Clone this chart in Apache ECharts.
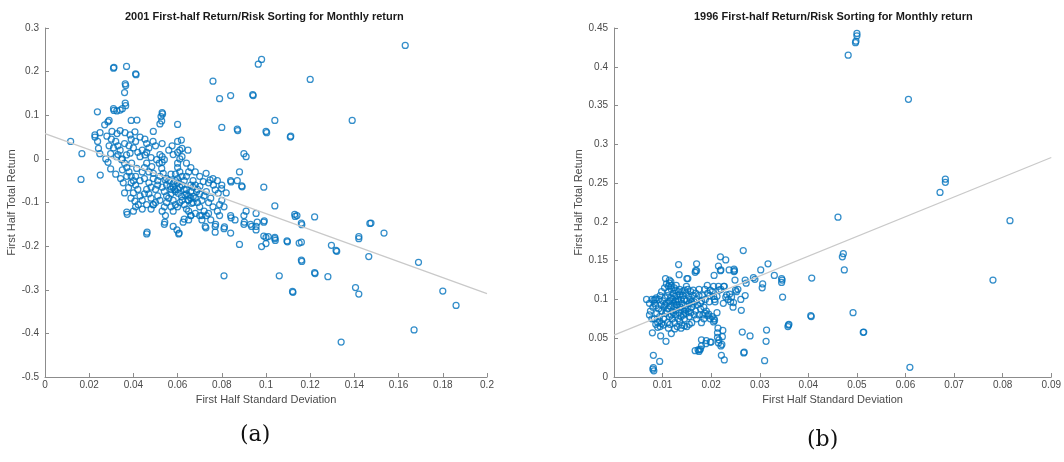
<!DOCTYPE html>
<html>
<head>
<meta charset="utf-8">
<script src="https://cdn.jsdelivr.net/npm/echarts@6/dist/echarts.min.js"></script>
<style>
  html, body { margin: 0; padding: 0; background: #fff; }
  #chart { width: 1064px; height: 462px; }
</style>
</head>
<body>
<div id="chart"></div>
<script>
// 2001: [first half std dev, first half total return]
var points2001 = [
  [0.163,0.26],[0.098,0.228],[0.0965,0.217],[0.12,0.182],[0.076,0.178],[0.079,0.138],[0.084,0.145],[0.094,0.147],[0.0942,0.145],
  [0.08,0.072],[0.087,0.068],[0.0872,0.065],[0.104,0.088],[0.1,0.063],[0.1003,0.06],[0.111,0.05],[0.1112,0.052],[0.139,0.088],
  [0.09,0.012],[0.091,0.005],[0.088,-0.03],[0.084,-0.05],[0.0842,-0.053],[0.089,-0.062],[0.0892,-0.064],[0.099,-0.065],
  [0.082,-0.078],[0.104,-0.108],[0.113,-0.127],[0.1132,-0.132],[0.122,-0.133],
  [0.031,0.208],[0.0312,0.21],[0.0369,0.212],[0.041,0.195],[0.0412,0.193],[0.0363,0.172],[0.0365,0.168],[0.036,0.152],
  [0.0363,0.128],[0.0365,0.122],[0.031,0.115],[0.0312,0.111],[0.0325,0.11],[0.034,0.112],[0.035,0.115],[0.0237,0.108],
  [0.053,0.106],[0.0532,0.103],[0.0525,0.097],[0.0528,0.087],[0.052,0.08],[0.06,0.079],[0.039,0.088],[0.0416,0.089],
  [0.029,0.088],[0.0285,0.085],[0.027,0.078],[0.0116,0.04],[0.0167,0.012],[0.0163,-0.047],[0.025,-0.037],[0.049,0.063],
  [0.0617,0.043],[0.06,0.04],
  [0.0226,0.055],[0.0249,0.06],[0.028,0.052],[0.0303,0.063],[0.0326,0.058],[0.034,0.065],[0.0362,0.06],[0.0385,0.055],
  [0.0407,0.062],[0.043,0.05],[0.0452,0.045],[0.0489,0.04],[0.053,0.035],[0.0575,0.03],[0.062,0.024],[0.0647,0.02],
  [0.0226,0.05],[0.0238,0.04],[0.0242,0.024],[0.0248,0.012],[0.0275,0.0],[0.0297,0.012],[0.0285,-0.008],[0.0297,-0.023],
  [0.032,-0.035],[0.0342,-0.045],[0.0354,-0.055],[0.036,-0.078],[0.0378,-0.066],[0.0389,-0.09],[0.04,-0.078],[0.0407,-0.097],
  [0.0422,-0.105],
  [0.0324,0.005],[0.0347,-0.002],[0.0369,0.009],[0.0385,0.013],[0.0392,-0.01],[0.0415,-0.022],[0.043,0.005],[0.0452,0.009],
  [0.046,-0.01],[0.0483,-0.018],[0.049,-0.033],[0.0505,-0.002],[0.0517,-0.01],[0.0528,-0.022],[0.0535,-0.033],[0.0543,-0.048],
  [0.055,-0.06],[0.0566,-0.063],[0.0581,-0.056],[0.0588,-0.071],[0.0603,-0.079],[0.0618,-0.086],[0.0633,-0.083],[0.064,-0.071],
  [0.0648,-0.094],[0.0663,-0.102],[0.0671,-0.086],[0.0686,-0.075],[0.0701,-0.063],[0.0716,-0.052],[0.0729,-0.033],[0.0747,-0.048],
  [0.0762,-0.06],[0.077,-0.071],[0.0784,-0.079],[0.0799,-0.068],
  [0.044,-0.03],[0.045,-0.045],[0.047,-0.055],[0.048,-0.065],[0.05,-0.07],[0.051,-0.05],[0.052,-0.04],[0.054,-0.075],
  [0.055,-0.085],[0.056,-0.09],[0.057,-0.08],[0.058,-0.095],[0.059,-0.105],[0.06,-0.11],[0.061,-0.1],[0.062,-0.095],
  [0.063,-0.105],[0.064,-0.115],[0.065,-0.085],[0.066,-0.075],[0.067,-0.065],[0.068,-0.09],[0.069,-0.1],[0.07,-0.11],
  [0.071,-0.095],[0.072,-0.085],[0.073,-0.075],[0.074,-0.1],[0.075,-0.09],[0.076,-0.11],[0.078,-0.12],[0.079,-0.105],
  [0.08,-0.095],[0.081,-0.11],[0.062,-0.06],[0.063,-0.07],[0.064,-0.08],[0.065,-0.095],[0.066,-0.09],[0.067,-0.1],
  [0.06,-0.07],[0.061,-0.065],[0.059,-0.075],[0.058,-0.065],[0.057,-0.07],[0.056,-0.05],[0.06,-0.045],[0.062,-0.04],
  [0.061,-0.03],[0.06,-0.02],[0.06,-0.01],[0.061,0.0],[0.062,0.005],[0.06,0.015],[0.061,0.02],[0.059,-0.035],
  [0.063,-0.05],[0.066,-0.06],[0.067,-0.05],[0.068,-0.06],[0.069,-0.07],[0.07,-0.08],[0.065,-0.12],[0.066,-0.13],
  [0.068,-0.125],[0.07,-0.13],[0.072,-0.12],[0.074,-0.125],[0.058,-0.12],[0.057,-0.11],[0.055,-0.1],[0.054,-0.11],
  [0.053,-0.12],[0.052,-0.095],[0.051,-0.085],[0.05,-0.1],[0.049,-0.105],[0.048,-0.09],[0.047,-0.08],[0.046,-0.07],
  [0.045,-0.08],[0.044,-0.095],[0.043,-0.085],[0.042,-0.07],[0.041,-0.06],[0.04,-0.05],[0.039,-0.04],[0.038,-0.03],
  [0.037,-0.02],[0.036,-0.01],[0.035,0.0],[0.034,0.02],[0.033,0.03],[0.032,0.04],[0.03,0.045],[0.029,0.03],
  [0.031,0.025],[0.033,0.01],[0.035,-0.025],[0.037,-0.04],[0.039,-0.055],[0.041,-0.04],[0.043,-0.05],[0.045,-0.02],
  [0.047,-0.03],[0.049,-0.045],[0.051,-0.06],[0.053,-0.065],[0.055,-0.045],[0.057,-0.035],[0.059,-0.05],[0.06,-0.055],
  [0.053,-0.008],[0.054,-0.002],[0.053,0.005],[0.052,0.01],[0.048,0.003],[0.046,0.015],[0.044,0.02],[0.042,0.015],
  [0.04,0.025],[0.038,0.03],[0.036,0.035],[0.039,0.045],[0.041,0.04],[0.046,0.035],[0.05,0.03],[0.047,0.025],
  [0.056,0.02],[0.058,0.01],[0.064,-0.01],[0.066,-0.02],[0.068,-0.03],[0.07,-0.04],[0.074,-0.055],[0.076,-0.045],
  [0.078,-0.05],[0.08,-0.06],[0.064,-0.04],[0.065,-0.03],
  [0.037,-0.122],[0.0372,-0.127],[0.04,-0.12],[0.041,-0.11],[0.044,-0.115],[0.048,-0.115],[0.049,-0.105],[0.046,-0.105],
  [0.046,-0.172],[0.0462,-0.168],[0.054,-0.15],[0.0542,-0.145],[0.0545,-0.13],[0.058,-0.155],[0.0597,-0.163],[0.0605,-0.172],
  [0.0607,-0.17],[0.0625,-0.145],[0.063,-0.138],[0.066,-0.13],[0.065,-0.14],[0.0725,-0.155],[0.0728,-0.158],[0.073,-0.13],
  [0.071,-0.13],[0.077,-0.155],[0.0772,-0.15],[0.077,-0.168],[0.081,-0.16],[0.0812,-0.156],[0.084,-0.13],[0.0842,-0.135],
  [0.084,-0.17],[0.086,-0.14],[0.088,-0.196],[0.09,-0.15],[0.0902,-0.145],[0.09,-0.13],[0.091,-0.12],[0.093,-0.15],
  [0.0935,-0.155],[0.0955,-0.163],[0.0955,-0.155],[0.0955,-0.125],[0.096,-0.145],[0.099,-0.145],[0.0992,-0.142],[0.098,-0.201],
  [0.1,-0.194],[0.099,-0.177],[0.1,-0.18],[0.101,-0.178],[0.104,-0.18],[0.104,-0.183],[0.1042,-0.187],[0.1095,-0.188],
  [0.1097,-0.19],[0.081,-0.268],[0.106,-0.268],[0.112,-0.304],[0.1122,-0.306],[0.115,-0.193],[0.116,-0.191],[0.116,-0.232],
  [0.1162,-0.235],[0.116,-0.147],[0.1162,-0.151],[0.122,-0.261],[0.1222,-0.263],[0.128,-0.27],[0.1296,-0.198],[0.1317,-0.21],
  [0.132,-0.212],[0.134,-0.42],[0.1405,-0.295],[0.142,-0.31],[0.142,-0.178],[0.142,-0.183],[0.1465,-0.224],[0.147,-0.148],
  [0.1475,-0.147],[0.1534,-0.17],[0.167,-0.392],[0.169,-0.237],[0.18,-0.303],[0.186,-0.336],[0.114,-0.13],
  [0.087,-0.05],[0.071,-0.14],[0.075,-0.14],[0.079,-0.13]
];

// 1996: [first half std dev, first half total return]
var points1996 = [
  [0.05,0.443],[0.05,0.44],[0.0498,0.433],[0.0497,0.431],[0.0482,0.415],[0.0606,0.358],[0.0682,0.255],[0.0682,0.251],
  [0.0671,0.238],[0.0461,0.206],[0.0815,0.2015],[0.078,0.125],[0.0472,0.159],[0.047,0.155],[0.0474,0.138],[0.0492,0.083],
  [0.0513,0.0576],[0.0514,0.058],[0.0609,0.0125],[0.0407,0.1276],[0.0405,0.079],[0.0406,0.078],[0.0359,0.067],[0.0358,0.065],
  [0.036,0.068],[0.0347,0.103],[0.0345,0.127],[0.0345,0.122],[0.0346,0.125],[0.033,0.131],[0.0317,0.146],[0.0302,0.138],
  [0.0306,0.12],[0.0305,0.115],[0.029,0.126],[0.0287,0.128],[0.027,0.125],[0.0272,0.121],[0.0266,0.163],[0.0268,0.032],
  [0.0267,0.031],[0.0264,0.058],[0.028,0.053],[0.0314,0.0605],[0.0313,0.046],[0.031,0.021],[0.0261,0.1],[0.0262,0.086],
  [0.027,0.105],[0.025,0.112],[0.0249,0.125],[0.0247,0.136],[0.0247,0.139],[0.0248,0.137],[0.0237,0.138],[0.023,0.151],
  [0.0219,0.155],[0.022,0.138],[0.0219,0.137],[0.0215,0.143],[0.0206,0.131],[0.0226,0.117],[0.0227,0.117],[0.022,0.113],
  [0.023,0.103],[0.0235,0.1],[0.024,0.097],[0.0245,0.09],[0.0246,0.096],[0.0227,0.022],[0.0221,0.028],[0.022,0.04],
  [0.0222,0.042],[0.0215,0.044],[0.0216,0.048],[0.0223,0.052],[0.0224,0.06],[0.0213,0.057],[0.0214,0.063],[0.0213,0.051],
  [0.0212,0.083],[0.0206,0.075],[0.0205,0.071],[0.0207,0.073],[0.02,0.045],[0.0198,0.045],[0.019,0.047],[0.0189,0.043],
  [0.018,0.04],[0.0178,0.036],[0.0175,0.033],[0.0173,0.035],[0.0167,0.034],[0.0176,0.035],[0.018,0.048],[0.0195,0.081],
  [0.0193,0.079],[0.0207,0.1],[0.0205,0.104],[0.0215,0.117],[0.0216,0.112],[0.0205,0.117],[0.017,0.146],[0.0133,0.145],
  [0.0134,0.132],[0.0094,0.02],[0.0081,0.028],[0.0081,0.012],[0.008,0.01],[0.0082,0.008],[0.0067,0.1],[0.0079,0.057],
  [0.0096,0.053],[0.0107,0.046],[0.0118,0.056],[0.0106,0.127],[0.0114,0.125],[0.0114,0.121],[0.0117,0.123],[0.015,0.127],
  [0.0152,0.127],[0.0149,0.117],[0.0167,0.135],[0.0168,0.137],[0.017,0.137],
  [0.0073,0.08],[0.0075,0.085],[0.0078,0.075],[0.008,0.09],[0.0083,0.095],[0.0085,0.1],[0.0087,0.102],[0.0088,0.082],
  [0.009,0.07],[0.0092,0.088],[0.0094,0.078],[0.0095,0.065],[0.0097,0.093],[0.0098,0.085],[0.01,0.098],[0.0102,0.075],
  [0.0103,0.09],[0.0105,0.102],[0.0106,0.082],[0.0108,0.095],[0.011,0.105],[0.0111,0.088],[0.0112,0.11],[0.0113,0.097],
  [0.0114,0.078],[0.0116,0.092],[0.0117,0.102],[0.0118,0.113],[0.012,0.085],[0.0121,0.1],[0.0122,0.108],[0.0123,0.095],
  [0.0124,0.09],[0.0125,0.104],[0.0126,0.112],[0.0127,0.098],[0.0128,0.086],[0.0129,0.105],[0.013,0.093],[0.0131,0.1],
  [0.0132,0.11],[0.0133,0.097],[0.0134,0.083],[0.0135,0.106],[0.0136,0.09],[0.0138,0.1],[0.014,0.095],[0.0142,0.105],
  [0.0144,0.085],[0.0145,0.1],[0.0147,0.092],[0.0148,0.108],[0.015,0.098],[0.0152,0.088],[0.0154,0.104],[0.0155,0.095],
  [0.0157,0.1],[0.016,0.09],[0.0162,0.105],[0.0165,0.097],[0.0168,0.085],[0.017,0.1],[0.0172,0.093],[0.0175,0.105],
  [0.0178,0.088],[0.018,0.098],[0.0183,0.08],[0.0185,0.09],[0.0188,0.1],[0.019,0.085],[0.0193,0.108],[0.0196,0.097],
  [0.0198,0.112],[0.0083,0.075],[0.0086,0.068],[0.009,0.064],[0.0094,0.072],[0.0098,0.069],[0.0102,0.067],[0.011,0.07],
  [0.0115,0.068],[0.012,0.075],[0.0125,0.07],[0.013,0.065],[0.0135,0.072],[0.014,0.067],[0.0145,0.075],[0.015,0.065],
  [0.0155,0.078],[0.016,0.07],[0.0165,0.08],[0.017,0.075],[0.0175,0.08],[0.018,0.07],[0.0073,0.095],[0.0078,0.1],
  [0.0082,0.099],[0.0086,0.092],[0.0092,0.1],[0.0095,0.105],[0.0098,0.11],[0.0104,0.115],[0.0108,0.12],[0.0112,0.117],
  [0.0118,0.118],[0.0124,0.115],[0.0128,0.118],[0.0135,0.113],[0.014,0.11],[0.0145,0.112],[0.0152,0.113],[0.0158,0.11],
  [0.0163,0.112],[0.0168,0.108],[0.0175,0.113],[0.0182,0.105],[0.0187,0.113],[0.0192,0.118],[0.0197,0.105],[0.0202,0.11],
  [0.0208,0.097],[0.0212,0.104],[0.0118,0.08],[0.0122,0.083],[0.0127,0.08],[0.0132,0.075],[0.0138,0.078],[0.0143,0.08],
  [0.0148,0.082],[0.0153,0.084],[0.0158,0.083],[0.0108,0.085],[0.0105,0.093],[0.0115,0.098],[0.0128,0.093],[0.0137,0.087],
  [0.0147,0.087],[0.0163,0.094],[0.0178,0.095],[0.016,0.097],[0.0232,0.106],[0.0238,0.107],[0.0242,0.103],[0.0252,0.11],
  [0.0255,0.113],[0.0225,0.095],[0.0198,0.075],[0.0202,0.078],[0.0185,0.075],[0.0188,0.082],[0.0112,0.063],[0.0125,0.062],
  [0.0138,0.063],[0.0145,0.066],[0.0155,0.068]
];

// least-squares lines, end points
var fit2001 = [[0, 0.058], [0.2, -0.309]];
var fit1996 = [[0, 0.054], [0.09, 0.283]];

var titles = ['2001 First-half Return/Risk Sorting for Monthly return', '1996 First-half Return/Risk Sorting for Monthly return'];
var xName = 'First Half Standard Deviation';
var yName = 'First Half Total Return';

var axisGrey = '#8c8c8c';
var labelGrey = '#4a4a4a';

function xAx(idx, max, step) {
  return {
    gridIndex: idx, type: 'value', min: 0, max: max, interval: step,
    name: xName, nameLocation: 'middle', nameGap: 11,
    nameTextStyle: { color: labelGrey, fontSize: 11, fontFamily: 'Liberation Sans' },
    axisLine: { onZero: false, lineStyle: { color: axisGrey, width: 1 } },
    axisTick: { inside: true, length: 4, lineStyle: { color: axisGrey } },
    axisLabel: { color: labelGrey, fontSize: 10, margin: 3, fontFamily: 'Liberation Sans' },
    splitLine: { show: false }
  };
}
function yAx(idx, min, max, step, gap) {
  return {
    gridIndex: idx, type: 'value', min: min, max: max, interval: step,
    name: yName, nameLocation: 'middle', nameGap: gap,
    nameTextStyle: { color: labelGrey, fontSize: 11, fontFamily: 'Liberation Sans' },
    axisLine: { show: true, onZero: false, lineStyle: { color: axisGrey, width: 1 } },
    axisTick: { show: true, inside: true, length: 4, lineStyle: { color: axisGrey } },
    axisLabel: { color: labelGrey, fontSize: 10, margin: 6, fontFamily: 'Liberation Sans' },
    splitLine: { show: false }
  };
}

var marker = {
  color: 'rgba(0,0,0,0)',
  borderColor: '#0072BD',
  borderWidth: 1.25
};

var myChart = echarts.init(document.getElementById('chart'), null, { renderer: 'canvas' });
var option = {
  animation: false,
  backgroundColor: '#fff',
  grid: [
    { left: 45, top: 28, width: 442, height: 349 },
    { left: 614, top: 28, width: 441, height: 349 }
  ],
  xAxis: [xAx(0, 0.2, 0.02), xAx(1, 0.09, 0.01)],
  yAxis: [yAx(0, -0.5, 0.3, 0.1, 18), yAx(1, 0, 0.45, 0.05, 23)],
  graphic: [
    { type: 'text', left: 266 - 141, top: 11, style: { text: titles[0], fill: '#1a1a1a', font: 'bold 11px "Liberation Sans"' } },
    { type: 'text', left: 835 - 141, top: 11, style: { text: titles[1], fill: '#1a1a1a', font: 'bold 11px "Liberation Sans"' } },
    { type: 'text', left: 240, top: 424, style: { text: '(a)', fill: '#111', font: '22px "DejaVu Serif"' } },
    { type: 'text', left: 807, top: 429, style: { text: '(b)', fill: '#111', font: '22px "DejaVu Serif"' } }
  ],
  series: [
    {
      type: 'line', xAxisIndex: 0, yAxisIndex: 0, data: fit2001, symbol: 'none', silent: true,
      lineStyle: { color: '#c9c9c9', width: 1.2 }
    },
    {
      type: 'scatter', xAxisIndex: 0, yAxisIndex: 0, data: points2001,
      symbol: 'circle', symbolSize: 6, itemStyle: marker
    },
    {
      type: 'line', xAxisIndex: 1, yAxisIndex: 1, data: fit1996, symbol: 'none', silent: true,
      lineStyle: { color: '#c9c9c9', width: 1.2 }
    },
    {
      type: 'scatter', xAxisIndex: 1, yAxisIndex: 1, data: points1996,
      symbol: 'circle', symbolSize: 6, itemStyle: marker
    }
  ]
};
myChart.setOption(option);
</script>
</body>
</html>
